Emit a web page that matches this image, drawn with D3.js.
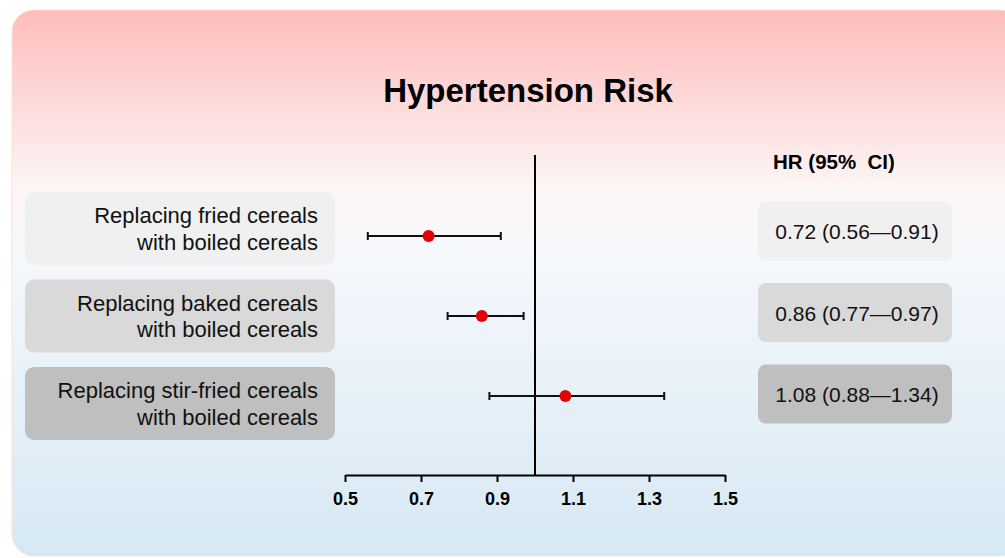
<!DOCTYPE html>
<html>
<head>
<meta charset="utf-8">
<script src="https://cdn.jsdelivr.net/npm/d3@7"></script>
<style>
  body { margin: 0; background: #fff; }
  svg { display: block; font-family: "Liberation Sans", Arial, sans-serif; }
</style>
</head>
<body>
<div id="chart-wrapper"></div>
<script>
// data
var labels = [
  ['Replacing fried cereals', 'with boiled cereals'],
  ['Replacing baked cereals', 'with boiled cereals'],
  ['Replacing stir-fried cereals', 'with boiled cereals']
];
var hr = [0.72, 0.86, 1.08];
var ci_low = [0.56, 0.77, 0.88];
var ci_high = [0.91, 0.97, 1.34];
var ci_text = ['0.72 (0.56\u20140.91)', '0.86 (0.77\u20140.97)', '1.08 (0.88\u20141.34)'];
var tick_values = [0.5, 0.7, 0.9, 1.1, 1.3, 1.5];
var box_colors = ['#f0f0f0', '#d9d9d9', '#bfbfbf'];

var total_width = 1005, total_height = 558;

var svg = d3.select('#chart-wrapper').append('svg')
    .attr('width', total_width)
    .attr('height', total_height);

// background gradient panel
var grad = svg.append('defs').append('linearGradient')
    .attr('id', 'bg').attr('x1', 0).attr('y1', 0).attr('x2', 0).attr('y2', 1);
grad.append('stop').attr('offset', '0%').attr('stop-color', '#ffbcbc');
grad.append('stop').attr('offset', '33%').attr('stop-color', '#fdf6f6');
grad.append('stop').attr('offset', '45%').attr('stop-color', '#f5f8fc');
grad.append('stop').attr('offset', '100%').attr('stop-color', '#d6e8f4');

svg.append('rect')
    .attr('x', 12).attr('y', 10)
    .attr('width', 1010).attr('height', 546)
    .attr('rx', 22)
    .attr('fill', 'url(#bg)')
    .attr('stroke', '#fbe3cf')
    .attr('stroke-width', 1);

svg.append('text')
    .attr('x', 528).attr('y', 102)
    .attr('text-anchor', 'middle')
    .attr('font-size', 33).attr('font-weight', 'bold')
    .text('Hypertension Risk');

// scales
var scale_x = d3.scaleLinear().domain([0.5, 1.5]).range([345, 725]);
var scale_y = d3.scalePoint().domain(d3.range(hr.length)).range([236, 396]);
// the side boxes sit on their own spacing
var scale_left = d3.scalePoint().domain(d3.range(hr.length)).range([228.5, 403.5]);
var scale_right = d3.scalePoint().domain(d3.range(hr.length)).range([231, 394]);
var axis_y0 = 475;

// left label boxes
var left = svg.append('g').selectAll('g')
    .data(labels).enter().append('g')
    .attr('transform', function(d, i) { return 'translate(0,' + scale_left(i) + ')'; });
left.append('rect')
    .attr('x', 25).attr('y', -36.5).attr('width', 310).attr('height', 73)
    .attr('rx', 9)
    .attr('fill', function(d, i) { return box_colors[i]; });
left.selectAll('text').data(function(d) { return d; }).enter().append('text')
    .attr('x', 318)
    .attr('y', function(d, j) { return -5.5 + j * 26.5; })
    .attr('text-anchor', 'end')
    .attr('font-size', 22)
    .attr('fill', '#111')
    .text(function(d) { return d; });

// right CI boxes
svg.append('text')
    .attr('x', 773).attr('y', 169)
    .attr('font-size', 20.5).attr('font-weight', 'bold')
    .attr('xml:space', 'preserve')
    .text('HR (95%  CI)');

var right = svg.append('g').selectAll('g')
    .data(ci_text).enter().append('g')
    .attr('transform', function(d, i) { return 'translate(0,' + scale_right(i) + ')'; });
right.append('rect')
    .attr('x', 758).attr('y', -29.5)
    .attr('width', 194).attr('height', 59)
    .attr('rx', 8)
    .attr('fill', function(d, i) { return box_colors[i]; });
right.append('text')
    .attr('x', 857).attr('y', 8)
    .attr('text-anchor', 'middle')
    .attr('font-size', 21)
    .attr('fill', '#111')
    .text(function(d) { return d; });

// reference line at 1
svg.append('line')
    .attr('x1', scale_x(1)).attr('x2', scale_x(1))
    .attr('y1', 155).attr('y2', axis_y0)
    .attr('stroke', '#000').attr('stroke-width', 2);

// x axis
var axis_x = d3.axisBottom(scale_x)
    .tickValues(tick_values)
    .tickFormat(d3.format('.1f'))
    .tickSizeInner(7)
    .tickSizeOuter(0);
var gx = svg.append('g')
    .attr('transform', 'translate(0,' + axis_y0 + ')')
    .call(axis_x);
gx.select('.domain').attr('stroke-width', 2);
gx.selectAll('.tick line').attr('stroke-width', 2);
gx.selectAll('.tick text')
    .attr('font-size', 18).attr('font-weight', 'bold')
    .attr('font-family', '"Liberation Sans", Arial, sans-serif')
    .attr('fill', '#000')
    .attr('y', 30)
    .attr('dy', 0);

// error bars
var rows = svg.append('g').selectAll('g')
    .data(hr).enter().append('g')
    .attr('transform', function(d, i) { return 'translate(0,' + scale_y(i) + ')'; });
rows.append('line')
    .attr('x1', function(d, i) { return scale_x(ci_low[i]); })
    .attr('x2', function(d, i) { return scale_x(ci_high[i]); })
    .attr('stroke', '#111').attr('stroke-width', 2);
[ci_low, ci_high].forEach(function(arr) {
  rows.append('line')
      .attr('x1', function(d, i) { return scale_x(arr[i]); })
      .attr('x2', function(d, i) { return scale_x(arr[i]); })
      .attr('y1', -4).attr('y2', 4)
      .attr('stroke', '#111').attr('stroke-width', 2);
});
rows.append('circle')
    .attr('cx', function(d) { return scale_x(d); })
    .attr('r', 6)
    .attr('fill', '#e50000');
</script>
</body>
</html>
